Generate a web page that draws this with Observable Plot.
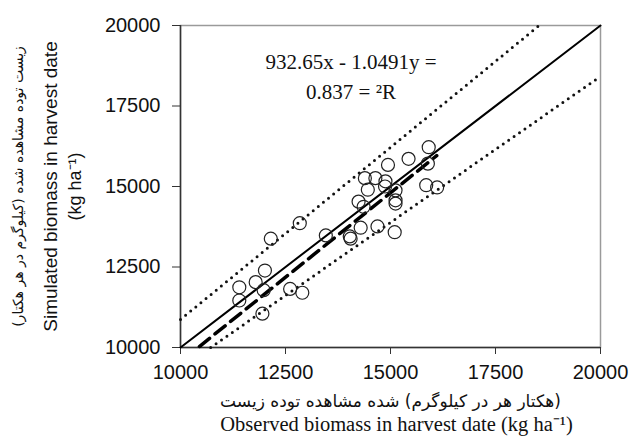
<!DOCTYPE html>
<html>
<head>
<meta charset="utf-8">
<script src="https://cdn.jsdelivr.net/npm/d3@7"></script>
<script src="https://cdn.jsdelivr.net/npm/@observablehq/plot@0.6"></script>
<style>
  html, body { margin: 0; padding: 0; background: #fff; }
</style>
</head>
<body>
<div id="chart"></div>
<script>
// Observed vs simulated biomass (kg/ha)
const observed  = [15910,15430,14940,15890,14390,14640,14880,14870,15120,14460,15850,16110,14240,15120,15120,14360,12840,14290,14690,15100,13460,14030,14050,12150,12010,11790,11400,11980,12610,12900,11400,11950];
const simulated = [16220,15860,15670,15710,15260,15260,15160,15000,14880,14900,15040,14970,14530,14570,14470,14370,13860,13720,13760,13580,13480,13450,13380,13380,12390,12030,11870,11780,11820,11700,11460,11050];

const axisTicks = [10000, 12500, 15000, 17500, 20000];
const axisDomain = [10000, 20000];

// 1:1 line and the two dotted bands
const oneToOneX = [10000, 20000];
const oneToOneY = [10000, 20000];
const upperBandX = [10000, 18540];
const upperBandY = [10870, 20000];
const lowerBandX = [10718, 20000];
const lowerBandY = [10000, 18420];

// regression y = 1.0491x - 932.65, drawn over the observed range
const regSlope = 1.0491;
const regIntercept = -932.65;
const regRangeX = [10450, 16100];

const equationText = "932.65x - 1.0491y =\n0.837 = ²R";
const equationPos = {x: 14060, y: 18480};

const yLabelFa = "\u200Fزیست توده مشاهده شده (کیلوگرم در هر هکتار)\u200F";
const yLabelEn1 = "Simulated biomass in harvest date";
const yLabelEn2 = "(kg ha⁻¹)";
// the x-axis Persian label appears with its words in reversed order
const xLabelFa = "\u200F(هکتار هر در کیلوگرم) شده مشاهده توده زیست";
const xLabelEn = "Observed biomass in harvest date (kg ha⁻¹)";

const points = observed.map((o, i) => ({obs: o, sim: simulated[i]}));
const line = (xs, ys) => xs.map((x, i) => ({x, y: ys[i]}));
const regLine = regRangeX.map(x => ({x, y: regSlope * x + regIntercept}));

const fmt = d3.format("d");

const chart = Plot.plot({
  width: 629,
  height: 446,
  marginLeft: 180,
  marginRight: 29,
  marginTop: 25,
  marginBottom: 99,
  style: {fontFamily: "'Liberation Sans', Arial, sans-serif", fontSize: "20px", background: "#fff", color: "#111"},
  x: {domain: axisDomain},
  y: {domain: axisDomain},
  marks: [
    Plot.frame({stroke: "#9a9a9a", strokeWidth: 1.5}),
    Plot.axisX({ticks: axisTicks, tickFormat: fmt, tickSize: 7, tickPadding: 10, label: null, stroke: "#333", fontSize: 20}),
    Plot.axisY({ticks: axisTicks, tickFormat: fmt, tickSize: 8, tickPadding: 12, label: null, stroke: "#333", fontSize: 20}),
    Plot.ruleX([axisDomain[0]], {stroke: "#333", strokeWidth: 1.5}),
    Plot.ruleY([axisDomain[0]], {stroke: "#333", strokeWidth: 1.5}),
    Plot.line(line(upperBandX, upperBandY), {x: "x", y: "y", stroke: "#111", strokeWidth: 3, strokeDasharray: "0,6.6", strokeLinecap: "round"}),
    Plot.line(line(lowerBandX, lowerBandY), {x: "x", y: "y", stroke: "#111", strokeWidth: 3, strokeDasharray: "0,6.6", strokeLinecap: "round"}),
    Plot.line(line(oneToOneX, oneToOneY), {x: "x", y: "y", stroke: "#000", strokeWidth: 2}),
    Plot.line(regLine, {x: "x", y: "y", stroke: "#000", strokeWidth: 3.5, strokeDasharray: "13,7"}),
    Plot.dot(points, {x: "obs", y: "sim", r: 6.5, stroke: "#222", strokeWidth: 1.2, fill: "none"}),
    Plot.text([equationText], {x: () => equationPos.x, y: () => equationPos.y, fontFamily: "'Liberation Serif', 'Times New Roman', serif", fontSize: 21, lineHeight: 1.4, fill: "#111"}),
    Plot.text([yLabelFa], {frameAnchor: "left", textAnchor: "middle", dx: -162, rotate: -90, fontFamily: "'DejaVu Sans', sans-serif", fontSize: 14, fill: "#111"}),
    Plot.text([yLabelEn1], {frameAnchor: "left", textAnchor: "middle", dx: -130, rotate: -90, fontSize: 19, fill: "#111"}),
    Plot.text([yLabelEn2], {frameAnchor: "left", textAnchor: "middle", dx: -105, rotate: -90, fontSize: 18, fill: "#111"}),
    Plot.text([xLabelFa], {frameAnchor: "bottom", dy: 59, fontFamily: "'DejaVu Sans', sans-serif", fontSize: 17, fill: "#111"}),
    Plot.text([xLabelEn], {frameAnchor: "bottom", dx: 6, dy: 83, fontFamily: "'Liberation Serif', 'Times New Roman', serif", fontSize: 20.5, fill: "#111"})
  ]
});
document.getElementById("chart").appendChild(chart);
</script>
</body>
</html>
